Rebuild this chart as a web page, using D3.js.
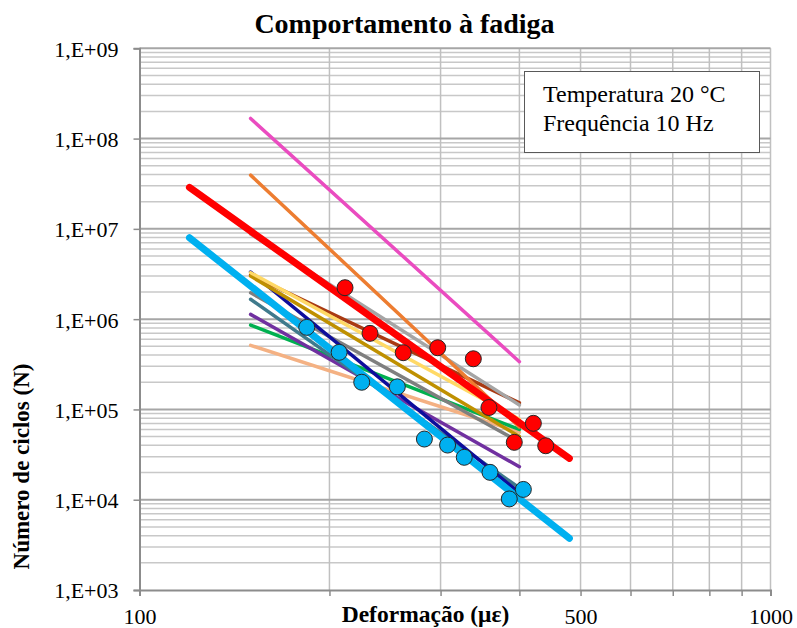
<!DOCTYPE html>
<html>
<head>
<meta charset="utf-8">
<script src="https://cdn.jsdelivr.net/npm/d3@7/dist/d3.min.js"></script>
<style>
  html, body { margin: 0; padding: 0; background: #ffffff; }
  svg { display: block; }
  text { font-family: "Liberation Serif", "Times New Roman", serif; fill: #000; }
</style>
</head>
<body>
<svg id="chart" width="797" height="628"></svg>
<script>
// Strain range (με) of the individual S-N trend lines and of the two fitted curves
const trendStrain = [150, 400];
const fitStrain = [120, 480];

// Cycles to failure at the two ends of each trend line
const cyclesMagenta = [1.67e8, 3.38e5];
const cyclesOrange  = [3.94e7, 6.4e4];
const cyclesSilver  = [8.75e6, 1.12e5];
const cyclesBrown   = [3.08e6, 1.18e5];
const cyclesYellow  = [3.27e6, 7.8e4];
const cyclesGold    = [3.0e6, 5.0e4];
const cyclesNavy    = [3.33e6, 1.19e4];
const cyclesGray    = [1.96e6, 4.36e4];
const cyclesSlate   = [1.66e6, 1.35e4];
const cyclesPurple  = [1.13e6, 2.32e4];
const cyclesGreen   = [8.6e5, 6.0e4];
const cyclesPeach   = [5.13e5, 5.6e4];

// Fitted fatigue laws
const cyclesFitRed  = [2.88e7, 2.87e4];
const cyclesFitBlue = [7.97e6, 3.74e3];

// Test results
const redStrain  = [211.7, 231.9, 261.8, 296.9, 338.1, 357.9, 392.6, 420.9, 440.3];
const redCycles  = [2.23e6, 6.96e5, 4.25e5, 4.82e5, 3.64e5, 1.05e5, 4.32e4, 7.02e4, 3.96e4];
const blueStrain = [184.1, 207.2, 225.0, 256.2, 282.8, 307.8, 327.1, 359.3, 385.5, 405.8];
const blueCycles = [8.11e5, 4.29e5, 2.0e5, 1.78e5, 4.70e4, 4.03e4, 2.95e4, 2.01e4, 1.02e4, 1.30e4];

// Axis ticks
const xTicks = [100, 200, 300, 400, 500, 600, 700, 800, 900, 1000];
const xTickLabels = [100, 500, 1000];
const yTicks = [1e3, 1e4, 1e5, 1e6, 1e7, 1e8, 1e9];

const titleText = "Comportamento à fadiga";
const xTitle = "Deformação (με)";
const yTitle = "Número de ciclos (N)";
const noteLines = ["Temperatura 20 °C", "Frequência 10 Hz"];

// ---- drawing ----
const svg = d3.select("#chart");
const plot = { left: 139.5, right: 770.5, top: 48.3, bottom: 590 };

const x = d3.scaleLog().domain([100, 1000]).range([plot.left, plot.right]);
const y = d3.scaleLog().domain([1e3, 1e9]).range([plot.bottom, plot.top]);

svg.append("rect").attr("width", 797).attr("height", 628).attr("fill", "#fff");

// minor horizontal grid (2..9 × 10^k)
const minorY = [];
for (let k = 3; k < 9; k++) for (let m = 2; m <= 9; m++) minorY.push(m * Math.pow(10, k));
svg.append("g").selectAll("line").data(minorY).join("line")
  .attr("x1", plot.left).attr("x2", plot.right)
  .attr("y1", d => y(d)).attr("y2", d => y(d))
  .attr("stroke", "#c8c8c8").attr("stroke-width", 1.5);

// vertical grid
svg.append("g").selectAll("line").data(xTicks.slice(1)).join("line")
  .attr("x1", d => x(d)).attr("x2", d => x(d))
  .attr("y1", plot.top).attr("y2", plot.bottom)
  .attr("stroke", "#c0c0c0").attr("stroke-width", 1.5);

// major horizontal grid
svg.append("g").selectAll("line").data(yTicks.slice(1)).join("line")
  .attr("x1", plot.left).attr("x2", plot.right)
  .attr("y1", d => y(d)).attr("y2", d => y(d))
  .attr("stroke", "#a6a6a6").attr("stroke-width", 2);

// axes
const yAxis = d3.axisLeft(y).tickValues(yTicks).tickSize(6).tickPadding(15)
  .tickFormat(d => "1,E+" + String(Math.round(Math.log10(d))).padStart(2, "0"));
const gy = svg.append("g").attr("transform", `translate(${plot.left},0)`).call(yAxis);

const xAxis = d3.axisBottom(x).tickValues(xTicks).tickSize(6).tickPadding(12)
  .tickFormat(d => xTickLabels.includes(d) ? String(d) : "");
const gx = svg.append("g").attr("transform", `translate(0,${plot.bottom})`).call(xAxis);

[gx, gy].forEach(g => {
  g.select(".domain").attr("stroke", "#8c8c8c").attr("stroke-width", 2);
  g.selectAll(".tick line").attr("stroke", "#8c8c8c").attr("stroke-width", 1.5);
  g.selectAll(".tick text")
    .style("font-family", '"Liberation Serif", "Times New Roman", serif')
    .style("font-size", "22px").attr("fill", "#000");
});
gy.selectAll(".tick text").attr("dy", "0.36em");

// trend lines
const trends = [
  { c: cyclesPeach,   color: "#f4b183" },
  { c: cyclesGreen,   color: "#00b050" },
  { c: cyclesPurple,  color: "#7030a0" },
  { c: cyclesSlate,   color: "#3f7a8c" },
  { c: cyclesGray,    color: "#7f7f7f" },
  { c: cyclesNavy,    color: "#0d0d9c" },
  { c: cyclesBrown,   color: "#a93a12" },
  { c: cyclesGold,    color: "#bf9000" },
  { c: cyclesYellow,  color: "#ffd966" },
  { c: cyclesSilver,  color: "#a5a5a5" },
  { c: cyclesOrange,  color: "#ed7d31" },
  { c: cyclesMagenta, color: "#ea4cc0" }
];
const line = d3.line().x(d => x(d[0])).y(d => y(d[1]));

svg.append("g").selectAll("path").data(trends).join("path")
  .attr("d", s => line(d3.zip(trendStrain, s.c)))
  .attr("fill", "none").attr("stroke", s => s.color)
  .attr("stroke-width", 3.5).attr("stroke-linecap", "round");

// fitted laws
const fits = [
  { c: cyclesFitRed,  color: "#ff0000" },
  { c: cyclesFitBlue, color: "#00b0f0" }
];
svg.append("g").selectAll("path").data(fits).join("path")
  .attr("d", s => line(d3.zip(fitStrain, s.c)))
  .attr("fill", "none").attr("stroke", s => s.color)
  .attr("stroke-width", 7).attr("stroke-linecap", "round");

// test points
const groups = [
  { xs: redStrain,  ys: redCycles,  fill: "#ff0000" },
  { xs: blueStrain, ys: blueCycles, fill: "#00b0f0" }
];
groups.forEach(g => {
  svg.append("g").selectAll("circle").data(d3.zip(g.xs, g.ys)).join("circle")
    .attr("cx", d => x(d[0])).attr("cy", d => y(d[1])).attr("r", 8)
    .attr("fill", g.fill).attr("stroke", "#262626").attr("stroke-width", 1);
});

// note box
const box = svg.append("g");
box.append("rect").attr("x", 524.5).attr("y", 71.5).attr("width", 235).attr("height", 81)
  .attr("fill", "#fff").attr("stroke", "#595959").attr("stroke-width", 1);
box.selectAll("text").data(noteLines).join("text")
  .attr("x", 543).attr("y", (d, i) => 102 + i * 29)
  .style("font-size", "24px").text(d => d);

// titles
svg.append("text").attr("x", 404.5).attr("y", 33).attr("text-anchor", "middle")
  .style("font-size", "28px").style("font-weight", "bold").text(titleText);
svg.append("text").attr("x", 425.5).attr("y", 621.5).attr("text-anchor", "middle")
  .style("font-size", "23.5px").style("font-weight", "bold").text(xTitle);
svg.append("text").attr("transform", "translate(29,466.5) rotate(-90)").attr("text-anchor", "middle")
  .style("font-size", "23px").style("font-weight", "bold").text(yTitle);
</script>
</body>
</html>
